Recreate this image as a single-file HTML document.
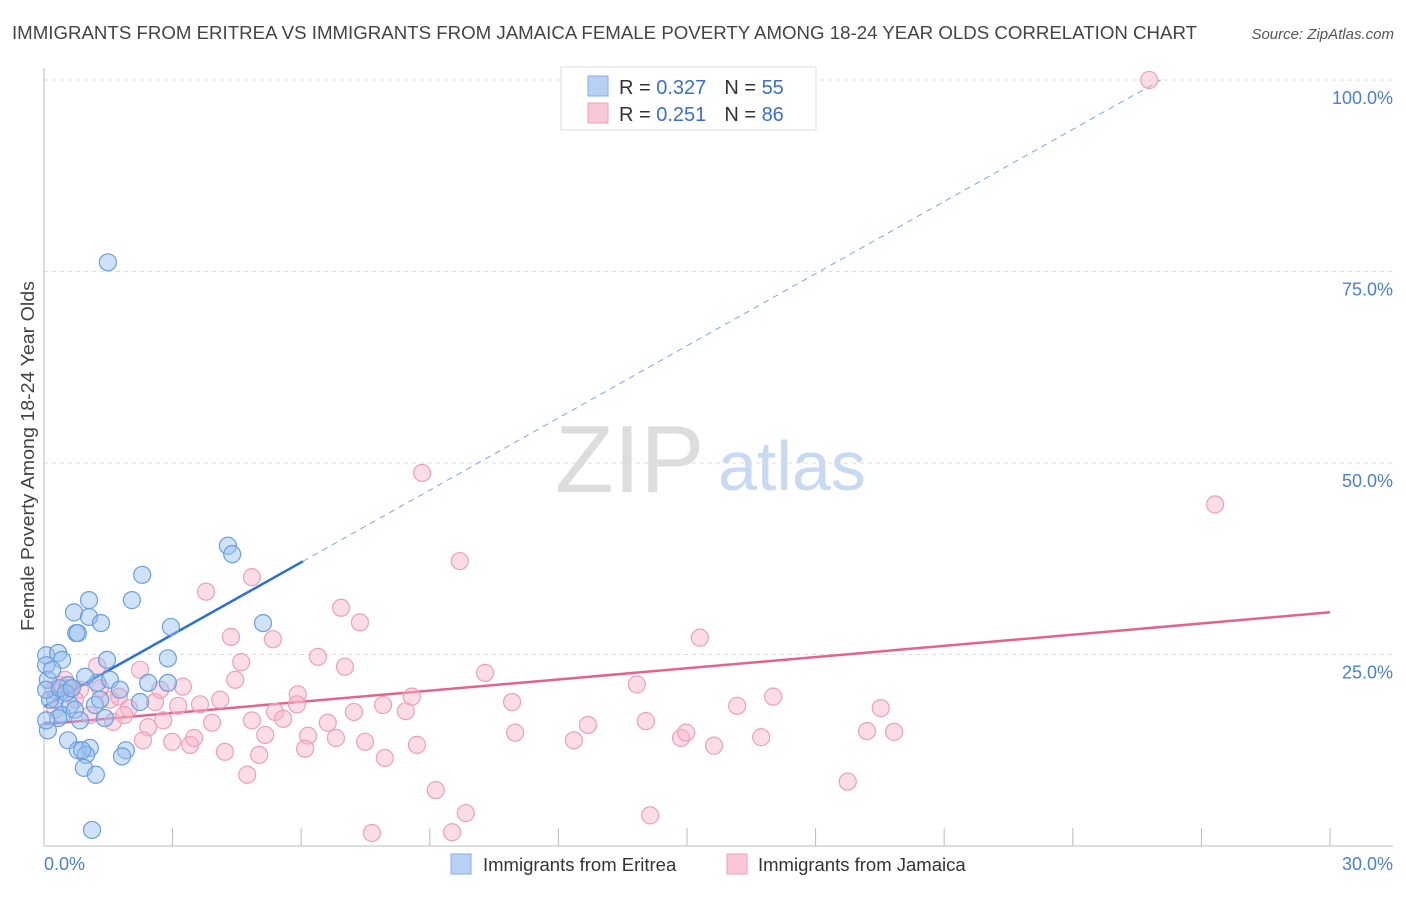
<!DOCTYPE html>
<html><head><meta charset="utf-8"><style>
body{margin:0;background:#fff;font-family:"Liberation Sans",sans-serif;}
svg text{font-family:"Liberation Sans",sans-serif;}
</style></head><body>
<svg id="chart" width="1406" height="892" xmlns="http://www.w3.org/2000/svg">
<text x="12" y="39" font-size="18.5" fill="#444" textLength="1185" lengthAdjust="spacingAndGlyphs">IMMIGRANTS FROM ERITREA VS IMMIGRANTS FROM JAMAICA FEMALE POVERTY AMONG 18-24 YEAR OLDS CORRELATION CHART</text>
<text x="1394" y="39" font-size="15" fill="#555" text-anchor="end" font-style="italic">Source: ZipAtlas.com</text>
<text transform="translate(34,456) rotate(-90)" font-size="18" fill="#444" text-anchor="middle" textLength="350" lengthAdjust="spacingAndGlyphs">Female Poverty Among 18-24 Year Olds</text>
<g>
<text x="555" y="492" font-size="96" fill="#ddd" font-family="Liberation Serif,serif">ZIP</text>
<text x="718" y="490" font-size="70" fill="#c8daf2">atlas</text>
</g>
<g id="grid"></g>
<g id="axes"></g>
<g id="lines"></g>
<g id="pts"></g>
<g>
<rect x="561" y="67" width="255" height="63" fill="#fff" stroke="#ddd"/>
<rect x="588" y="76" width="20" height="20" fill="#b7d1f5" stroke="#86aee6"/>
<rect x="588" y="103" width="20" height="20" fill="#f9c7d6" stroke="#ef9fb8"/>
<text x="619" y="94" font-size="20" fill="#333">R = <tspan fill="#3a6fd0">0.327</tspan><tspan dx="18">N = </tspan><tspan fill="#3a6fd0">55</tspan></text>
<text x="619" y="121" font-size="20" fill="#333">R =  <tspan fill="#3a6fd0">0.251</tspan><tspan dx="18">N = </tspan><tspan fill="#3a6fd0">86</tspan></text>
</g>
<g>
<rect x="451" y="854" width="20" height="20" fill="#b7d1f5" stroke="#86aee6"/>
<text x="483" y="871" font-size="18.5" fill="#333">Immigrants from Eritrea</text>
<rect x="727" y="854" width="20" height="20" fill="#f9c7d6" stroke="#ef9fb8"/>
<text x="758" y="871" font-size="18.5" fill="#333">Immigrants from Jamaica</text>
</g>
</svg>
<script>
const yTicks=[25,50,75,100];
const yTickLabels=["25.0%","50.0%","75.0%","100.0%"];
const xTickLabels=["0.0%","30.0%"];
const eritreaX=[1.49,4.29,4.39,2.29,1.05,2.05,0.70,1.05,0.75,0.79,1.33,2.96,5.11,0.05,0.33,0.05,0.42,1.47,2.89,0.09,0.56,1.24,2.43,2.89,1.54,0.96,0.26,0.61,1.19,2.24,0.42,0.72,0.33,1.42,0.09,0.56,0.79,1.07,0.98,0.89,1.91,1.82,0.93,1.21,1.12,0.14,0.05,0.37,0.19,1.31,1.77,0.05,0.51,0.65,0.84];
const eritreaY=[76.2,39.2,38.1,35.4,32.1,32.1,30.5,29.9,27.8,27.8,29.1,28.6,29.1,24.9,25.2,23.6,24.3,24.3,24.5,21.7,21.0,21.3,21.3,21.3,21.7,22.1,19.1,18.4,18.4,18.8,17.1,17.8,16.7,16.7,15.1,13.8,12.5,12.8,11.9,12.5,12.5,11.7,10.2,9.3,2.1,19.1,20.4,20.6,23.0,19.1,20.4,16.4,20.0,20.6,16.4];
const jamaicaX=[25.78,8.82,27.32,9.70,3.78,4.85,6.93,7.37,4.36,5.34,15.30,6.39,4.60,7.02,1.24,10.29,13.83,4.46,3.24,5.92,8.58,17.01,10.92,0.23,0.37,0.84,1.54,1.75,1.98,2.59,4.11,3.13,3.64,5.90,7.91,8.44,7.23,16.17,19.52,5.39,5.58,4.85,2.78,3.92,2.43,6.62,12.69,14.04,14.86,14.98,10.99,12.36,16.73,19.20,19.83,6.16,6.81,5.16,2.31,2.99,3.41,3.50,1.61,1.87,4.22,5.02,6.09,8.70,7.49,15.63,7.95,4.74,18.75,9.14,9.84,14.14,7.65,9.52,1.31,0.61,0.49,2.24,1.07,0.26,0.72,2.71];
const jamaicaY=[100.0,48.7,44.6,37.2,33.2,35.1,31.1,29.2,27.3,27.0,27.2,24.7,24.0,23.4,23.5,22.6,21.1,21.7,20.8,19.8,19.5,19.5,18.8,20.4,21.0,20.4,19.1,19.5,18.0,18.8,19.1,18.3,18.5,18.5,18.4,17.6,17.5,18.3,18.0,17.5,16.6,16.4,16.4,16.1,15.5,16.1,15.8,16.3,14.1,14.8,14.8,13.8,14.2,15.0,14.9,14.4,14.1,14.5,13.8,13.6,13.2,14.1,16.2,17.1,12.3,11.9,12.7,13.2,13.6,13.1,11.5,9.3,8.4,7.3,4.3,4.0,1.7,1.8,20.6,20.6,21.7,23.0,17.1,17.8,19.1,20.4];
const eritreaFit=[18.2,3.14]; // intercept, slope
const jamaicaFit=[15.9,0.487];
const NS="http://www.w3.org/2000/svg";
const X0=44,X1=1330,XMAX=30,Y0=846,Y100=80;
function sx(v){return X0+v/XMAX*(X1-X0);}
function sy(v){return Y0-v/100*(Y0-Y100);}
function mk(tag,attrs,parent){const e=document.createElementNS(NS,tag);for(const k in attrs)e.setAttribute(k,attrs[k]);parent.appendChild(e);return e;}
const grid=document.getElementById('grid'),axes=document.getElementById('axes'),lines=document.getElementById('lines'),pts=document.getElementById('pts');
yTicks.forEach((t,i)=>{
 const l=mk('line',{x1:X0,x2:1393,y1:sy(t),y2:sy(t),stroke:'#ddd','stroke-dasharray':'4,4'},grid);
 
 
 const tx=mk('text',{x:1393,y:sy(t)+24,'font-size':18,fill:'#4a7fd6','text-anchor':'end'},grid);
 tx.textContent=yTickLabels[i];
 
 
});
let a=mk('line',{x1:X0,x2:X0,y1:68,y2:Y0,stroke:'#bbb'},axes);


a=mk('line',{x1:X0,x2:1393,y1:Y0,y2:Y0,stroke:'#bbb'},axes);


for(let i=1;i<=10;i++){const v=i*3;const t=mk('line',{x1:sx(v),x2:sx(v),y1:828,y2:Y0,stroke:'#bbb'},axes);
 
 }
let xl=mk('text',{x:44,y:870,'font-size':18,fill:'#4a7fd6'},axes);xl.textContent=xTickLabels[0];


xl=mk('text',{x:1393,y:870,'font-size':18,fill:'#4a7fd6','text-anchor':'end'},axes);xl.textContent=xTickLabels[1];


function drawPts(xs,ys,fill,stroke,name){xs.forEach((x,i)=>{const c=mk('circle',{cx:sx(x),cy:sy(ys[i]),r:8.5,fill:fill,stroke:stroke,'stroke-width':1.2},pts);
 
 });}
drawPts(jamaicaX,jamaicaY,'rgba(248,180,200,0.45)','#eda0b8','jamaica-point');
drawPts(eritreaX,eritreaY,'rgba(150,190,240,0.45)','#6a9ee0','eritrea-point');
const bx=6.04,bEnd=(100.0-eritreaFit[0])/eritreaFit[1];
let f=mk('line',{x1:sx(0),y1:sy(eritreaFit[0]),x2:sx(bx),y2:sy(eritreaFit[0]+eritreaFit[1]*bx),stroke:'#2a6fd6','stroke-width':2.5},lines);


f=mk('line',{x1:sx(bx),y1:sy(eritreaFit[0]+eritreaFit[1]*bx),x2:sx(bEnd),y2:sy(100),stroke:'#7aa6e6','stroke-width':1,'stroke-dasharray':'6,5'},lines);


f=mk('line',{x1:sx(0),y1:sy(jamaicaFit[0]),x2:sx(30),y2:sy(jamaicaFit[0]+jamaicaFit[1]*30),stroke:'#e4628e','stroke-width':2.5},lines);


</script>
</body></html>
